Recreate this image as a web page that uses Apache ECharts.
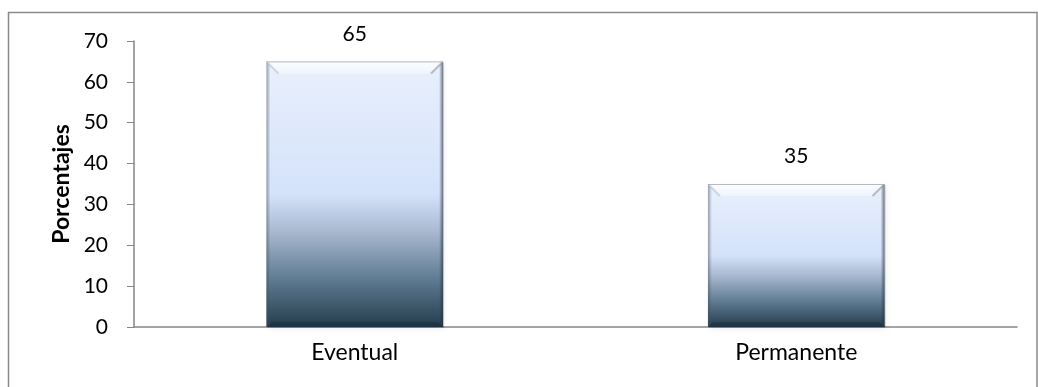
<!DOCTYPE html>
<html>
<head>
<meta charset="utf-8">
<script src="https://cdn.jsdelivr.net/npm/echarts@6/dist/echarts.min.js"></script>
<style>
  html, body { margin: 0; padding: 0; background: #fff; }
  #chart { width: 1038px; height: 387px; }
</style>
</head>
<body>
<div id="chart"></div>
<script>
// Tipo de contrato (porcentajes)
const categories = ['Eventual', 'Permanente'];
const values = [65, 35];
const yMin = 0;
const yMax = 70;
const yStep = 10;
const axisTitle = 'Porcentajes';

const FONT = 'Lato, "Open Sans", sans-serif';

const chart = echarts.init(document.getElementById('chart'));

// Bar body: pale blue that darkens to slate near the base
function bodyFill() {
  return new echarts.graphic.LinearGradient(0, 0, 0, 1, [
    { offset: 0, color: '#e9f0fc' },
    { offset: 0.5, color: '#d4e2fa' },
    { offset: 0.64, color: '#a8b9d0' },
    { offset: 0.82, color: '#5f7b92' },
    { offset: 1, color: '#243c4c' }
  ]);
}

function renderBar(params, api) {
  const cat = api.value(0);
  const v = api.value(1);
  const top = api.coord([cat, v]);
  const base = api.coord([cat, 0]);
  const bw = api.size([1, 0])[0] * 0.4;
  const x0 = top[0] - bw / 2;
  const x1 = top[0] + bw / 2;
  const y0 = top[1];
  const y1 = base[1];
  const h = y1 - y0;
  const bev = 12;
  const side = 4;
  return {
    type: 'group',
    children: [
      // soft drop shadow
      {
        type: 'rect',
        shape: { x: x0 + 1, y: y0 + 1, width: bw, height: h },
        style: { fill: 'rgba(0,0,0,0.18)', shadowBlur: 5, shadowColor: 'rgba(0,0,0,0.35)', shadowOffsetX: 1, shadowOffsetY: 1 }
      },
      {
        type: 'rect',
        shape: { x: x0, y: y0, width: bw, height: h },
        style: { fill: bodyFill() }
      },
      // left edge
      {
        type: 'rect',
        shape: { x: x0, y: y0, width: side, height: h },
        style: {
          fill: new echarts.graphic.LinearGradient(0, 0, 1, 0, [
            { offset: 0, color: 'rgba(70,80,95,0.5)' },
            { offset: 1, color: 'rgba(70,80,95,0.0)' }
          ])
        }
      },
      // right edge
      {
        type: 'rect',
        shape: { x: x1 - side, y: y0, width: side, height: h },
        style: {
          fill: new echarts.graphic.LinearGradient(0, 0, 1, 0, [
            { offset: 0, color: 'rgba(40,50,65,0.0)' },
            { offset: 1, color: 'rgba(40,50,65,0.65)' }
          ])
        }
      },
      // top bevel
      {
        type: 'polygon',
        shape: { points: [[x0, y0], [x1, y0], [x1 - bev, y0 + bev], [x0 + bev, y0 + bev]] },
        style: {
          fill: new echarts.graphic.LinearGradient(0, 0, 0, 1, [
            { offset: 0, color: 'rgba(252,253,255,1)' },
            { offset: 1, color: 'rgba(240,245,253,0.9)' }
          ])
        }
      },
      // top outline and bevel corner creases
      {
        type: 'polyline',
        shape: { points: [[x0, y0 + 0.5], [x1, y0 + 0.5]] },
        style: { stroke: 'rgba(150,158,172,0.7)', lineWidth: 1, fill: null }
      },
      {
        type: 'polyline',
        shape: { points: [[x0 + 1, y0 + 1], [x0 + bev, y0 + bev]] },
        style: { stroke: 'rgba(150,160,175,0.35)', lineWidth: 2, fill: null }
      },
      {
        type: 'polyline',
        shape: { points: [[x1 - 1, y0 + 1], [x1 - bev, y0 + bev]] },
        style: { stroke: 'rgba(110,120,135,0.45)', lineWidth: 2, fill: null }
      },
      // bottom bevel
      {
        type: 'polygon',
        shape: { points: [[x0, y1], [x1, y1], [x1 - 5, y1 - 5], [x0 + 5, y1 - 5]] },
        style: { fill: 'rgba(20,35,45,0.35)' }
      },
      // value label
      {
        type: 'text',
        style: {
          text: String(v),
          x: top[0],
          y: y0 - 17,
          align: 'center',
          verticalAlign: 'bottom',
          fill: '#000',
          font: '21px ' + FONT
        }
      }
    ]
  };
}

chart.setOption({
  animation: false,
  backgroundColor: '#fff',
  graphic: [
    {
      type: 'rect',
      shape: { x: 8.5, y: 12.5, width: 1028.5, height: 420 },
      style: { fill: 'none', stroke: '#8a8a8a', lineWidth: 1.5 },
      silent: true
    }
  ],
  grid: { left: 134, right: 21, top: 41, bottom: 60 },
  xAxis: {
    type: 'category',
    data: categories,
    axisLine: { lineStyle: { color: '#868686', width: 1.5 } },
    axisTick: { show: false },
    axisLabel: { color: '#000', fontFamily: FONT, fontSize: 23, margin: 14 },
    splitLine: { show: false }
  },
  yAxis: {
    type: 'value',
    min: yMin,
    max: yMax,
    interval: yStep,
    name: axisTitle,
    nameLocation: 'middle',
    nameRotate: 90,
    nameGap: 60,
    nameTextStyle: { color: '#000', fontFamily: FONT, fontSize: 23, fontWeight: 'bold' },
    axisLine: { show: true, lineStyle: { color: '#868686', width: 1.5 } },
    axisTick: { show: true, length: 7, lineStyle: { color: '#868686' } },
    axisLabel: { color: '#000', fontFamily: FONT, fontSize: 21, margin: 26 },
    splitLine: { show: false }
  },
  series: [
    {
      type: 'custom',
      renderItem: renderBar,
      data: categories.map((c, i) => [i, values[i]]),
      encode: { x: 0, y: 1 },
      clip: false
    }
  ]
});
</script>
</body>
</html>
